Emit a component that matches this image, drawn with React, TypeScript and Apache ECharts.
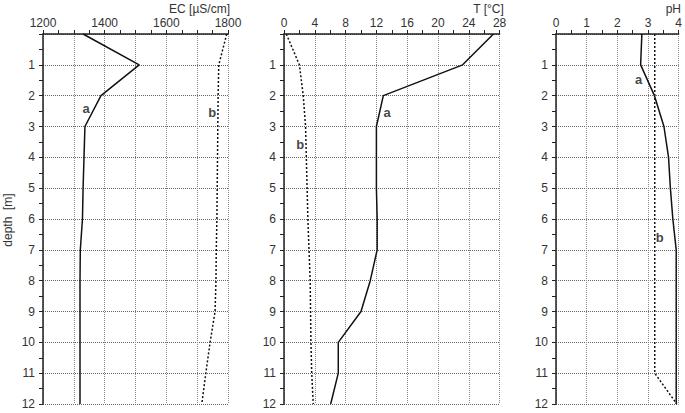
import React, { useEffect, useRef } from "react";
import * as echarts from "echarts";

const depth = [0, 1, 2, 3, 4, 5, 6, 7, 8, 9, 10, 11, 12];
const ecA = [1330, 1512, 1388, 1336, 1333, 1330, 1328, 1321, 1320, 1320, 1320, 1320, 1320];
const ecB = [1796, 1770, 1768, 1767, 1766, 1765, 1764, 1762, 1761, 1758, 1742, 1728, 1715];
const tA = [27.2, 23.2, 12.9, 12.0, 12.0, 12.0, 12.1, 12.1, 11.2, 10.0, 7.05, 7.05, 6.06];
const tB = [0.3, 2.0, 2.5, 2.8, 2.9, 3.0, 3.1, 3.25, 3.4, 3.45, 3.5, 3.6, 3.8];
const phA = [2.8, 2.76, 3.21, 3.52, 3.67, 3.73, 3.81, 3.92, 3.92, 3.92, 3.92, 3.92, 3.92];
const phB = [3.22, 3.22, 3.22, 3.22, 3.22, 3.22, 3.22, 3.22, 3.22, 3.22, 3.22, 3.22, 3.94];

const axisTitles = ["EC [µS/cm]", "T [°C]", "pH"];
const depthTitle = "depth  [m]";

// annotation letters: [panel, letter, x value, depth]
const notes: [number, string, number, number][] = [
  [0, "a", 1340, 2.4],
  [0, "b", 1749, 2.56],
  [1, "a", 13.4, 2.56],
  [1, "b", 2.1, 3.57],
  [2, "a", 2.69, 1.46],
  [2, "b", 3.38, 6.6],
];

const FONT = "Liberation Sans, Arial, sans-serif";
const TXT = "#333";
const FS = 12;

export default function App() {
  const ref = useRef<HTMLDivElement>(null);
  useEffect(() => {
    document.body.style.margin = "0";
    const chart = echarts.init(ref.current!, undefined, { renderer: "svg" });
    const grids = [
      { left: 43, right: 457, top: 34, bottom: 9 },
      { left: 284, right: 185.4, top: 34, bottom: 9 },
      { left: 556, right: 5.7, top: 34, bottom: 9 },
    ];
    const xCfg = [
      { min: 1200, max: 1800, interval: 100, labelEvery: 200 },
      { min: 0, max: 28, interval: 4, labelEvery: 4 },
      { min: 0, max: 4, interval: 1, labelEvery: 1 },
    ];
    const axisLine = { show: true, lineStyle: { color: "#222", width: 1.5 } };
    const xAxis = xCfg.map((c, i) => ({
      type: "value",
      gridIndex: i,
      position: "top",
      min: c.min,
      max: c.max,
      interval: c.interval,
      axisLine,
      axisTick: { show: true, inside: false, length: 4, lineStyle: { color: "#222" } },
      minorTick: { show: true, splitNumber: 2, length: 4, lineStyle: { color: "#222" } },
      splitLine: { show: true, lineStyle: { color: "#888", type: [1, 1], width: 1 } },
      axisLabel: {
        margin: 5,
        fontSize: FS,
        color: TXT,
        fontFamily: FONT,
        formatter: (v: number) => (Math.abs(v % c.labelEvery) < 1e-9 ? String(v) : ""),
      },
    }));
    const yAxis = [0, 1, 2].map((i) => ({
      type: "value",
      gridIndex: i,
      inverse: true,
      min: 0,
      max: 12,
      interval: 1,
      axisLine,
      axisTick: { show: true, inside: false, length: 4, lineStyle: { color: "#222" } },
      minorTick: { show: true, splitNumber: 2, length: 4, lineStyle: { color: "#222" } },
      splitLine: { show: true, lineStyle: { color: "#666", type: [1, 1], width: 1 } },
      axisLabel: {
        margin: 8,
        fontSize: FS,
        color: TXT,
        fontFamily: FONT,
        formatter: (v: number) => (v === 0 ? "" : String(v)),
      },
    }));
    const mk = (vals: number[], i: number, dotted: boolean) => ({
      type: "line",
      xAxisIndex: i,
      yAxisIndex: i,
      data: vals.map((v, k) => [v, depth[k]]),
      showSymbol: false,
      symbol: "none",
      lineStyle: { color: "#111", width: 1.5, type: dotted ? [2, 2] : "solid" },
      z: 5,
    });
    const noteSeries = [0, 1, 2].map((i) => ({
      type: "scatter",
      xAxisIndex: i,
      yAxisIndex: i,
      symbolSize: 0,
      data: notes.filter((n) => n[0] === i).map((n) => ({ value: [n[2], n[3]], name: n[1] })),
      label: {
        show: true,
        position: "inside",
        formatter: (p: any) => p.name,
        fontSize: 13,
        fontWeight: "bold",
        color: "#111",
        fontFamily: FONT,
      },
      z: 6,
    }));
    chart.setOption({
      animation: false,
      grid: grids,
      xAxis,
      yAxis,
      series: [
        mk(ecA, 0, false),
        mk(ecB, 0, true),
        mk(tA, 1, false),
        mk(tB, 1, true),
        mk(phA, 2, false),
        mk(phB, 2, true),
        ...noteSeries,
      ],
      graphic: [
        { type: "text", right: 685 - 230, top: 3, style: { text: axisTitles[0], fontSize: FS, fill: TXT, fontFamily: FONT } },
        { type: "text", right: 685 - 504, top: 3, style: { text: axisTitles[1], fontSize: FS, fill: TXT, fontFamily: FONT } },
        { type: "text", right: 685 - 681, top: 3, style: { text: axisTitles[2], fontSize: FS, fill: TXT, fontFamily: FONT } },
        {
          type: "text",
          x: 8,
          y: 220,
          rotation: Math.PI / 2,
          style: { text: depthTitle, fontSize: FS, fill: TXT, fontFamily: FONT, align: "center", verticalAlign: "middle" },
        },
      ],
    });
    return () => chart.dispose();
  }, []);
  return <div ref={ref} style={{ width: 685, height: 413 }} />;
}
